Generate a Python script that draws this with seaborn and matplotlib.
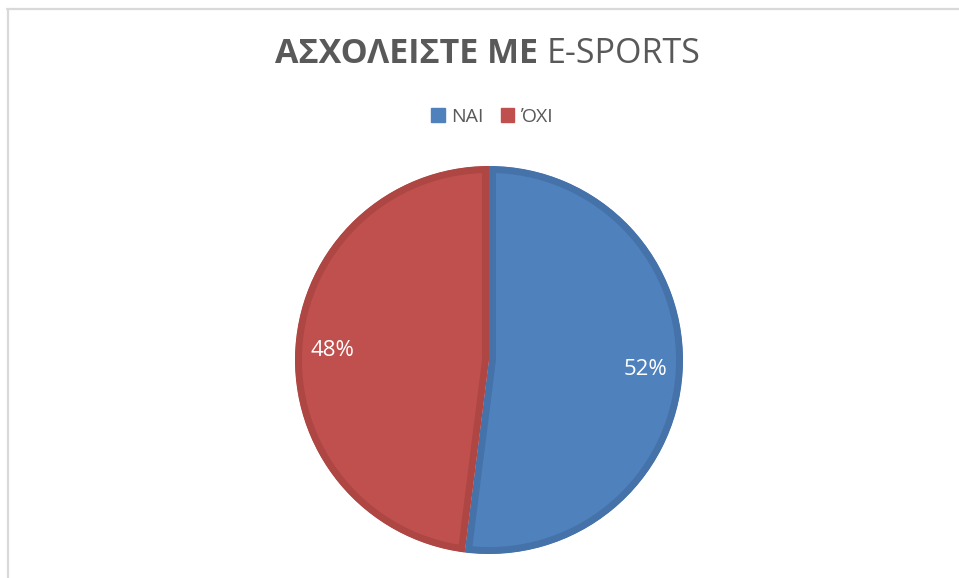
import matplotlib
matplotlib.use("Agg")
import matplotlib.pyplot as plt
from matplotlib.lines import Line2D
from matplotlib.patches import Patch
import seaborn as sns

# Survey answers: "Do you take part in e-sports?"
categories = ["ΝΑΙ", "ΌΧΙ"]
shares = [52, 48]
fill_colors = ["#4f81bd", "#c0504d"]
edge_colors = ["#4672aa", "#ae4644"]
title_bold = "ΑΣΧΟΛΕΙΣΤΕ ΜΕ "
title_regular = "E-SPORTS"

sns.set_theme(style="white")
plt.rcParams["font.family"] = ["Open Sans", "DejaVu Sans"]

W, H = 959, 578
fig = plt.figure(figsize=(W / 100, H / 100), dpi=100)
fig.patch.set_facecolor("white")

# Pie placed in pixel terms: centre (489, 360), radius 194
cx, cy, r = 489, 360, 194
ax = fig.add_axes([(cx - r) / W, (H - cy - r) / H, 2 * r / W, 2 * r / H])
wedges, _, autotexts = ax.pie(
    shares,
    colors=fill_colors,
    startangle=90,
    counterclock=False,
    autopct="%1.0f%%",
    pctdistance=0.81,
    radius=1.0,
    wedgeprops=dict(linewidth=10),
    textprops=dict(color="white", fontsize=16),
)
for w, ec in zip(wedges, edge_colors):
    w.set_edgecolor(ec)
    # keep the darker rim inside each slice
    w.set_clip_on(True)
    w.set_clip_path(w)
ax.set_xlim(-1, 1)
ax.set_ylim(-1, 1)
ax.set_aspect("equal")
ax.axis("off")

# Title: bold first part, regular second part
fig.canvas.draw()
renderer = fig.canvas.get_renderer()
t1 = fig.text(0, 0, title_bold, fontsize=24.5, fontweight="bold", color="#595959",
              va="baseline", ha="left")
t2 = fig.text(0, 0, title_regular, fontsize=24.5, color="#595959",
              va="baseline", ha="left")
w1 = t1.get_window_extent(renderer).width
w2 = t2.get_window_extent(renderer).width
x_start = 488 - (w1 + w2) / 2
y_base = 1 - 63 / H
t1.set_position((x_start / W, y_base))
t2.set_position(((x_start + w1) / W, y_base))

# Legend
handles = [Patch(facecolor=c, edgecolor=c) for c in fill_colors]
fig.legend(handles, categories, loc="center", bbox_to_anchor=(492 / W, 1 - 117 / H),
           ncol=2, frameon=False, fontsize=14, handlelength=0.7, handleheight=0.7,
           handletextpad=0.3, columnspacing=0.9, labelcolor="#595959")

# Light frame lines along top and left edges
fig.add_artist(Line2D([7 / W, 1], [1 - 9 / H, 1 - 9 / H], transform=fig.transFigure,
                      color="#d9d9d9", linewidth=1.6))
fig.add_artist(Line2D([8 / W, 8 / W], [0, 1 - 9 / H], transform=fig.transFigure,
                      color="#d9d9d9", linewidth=1.6))

fig.savefig("out.png", dpi=100)
